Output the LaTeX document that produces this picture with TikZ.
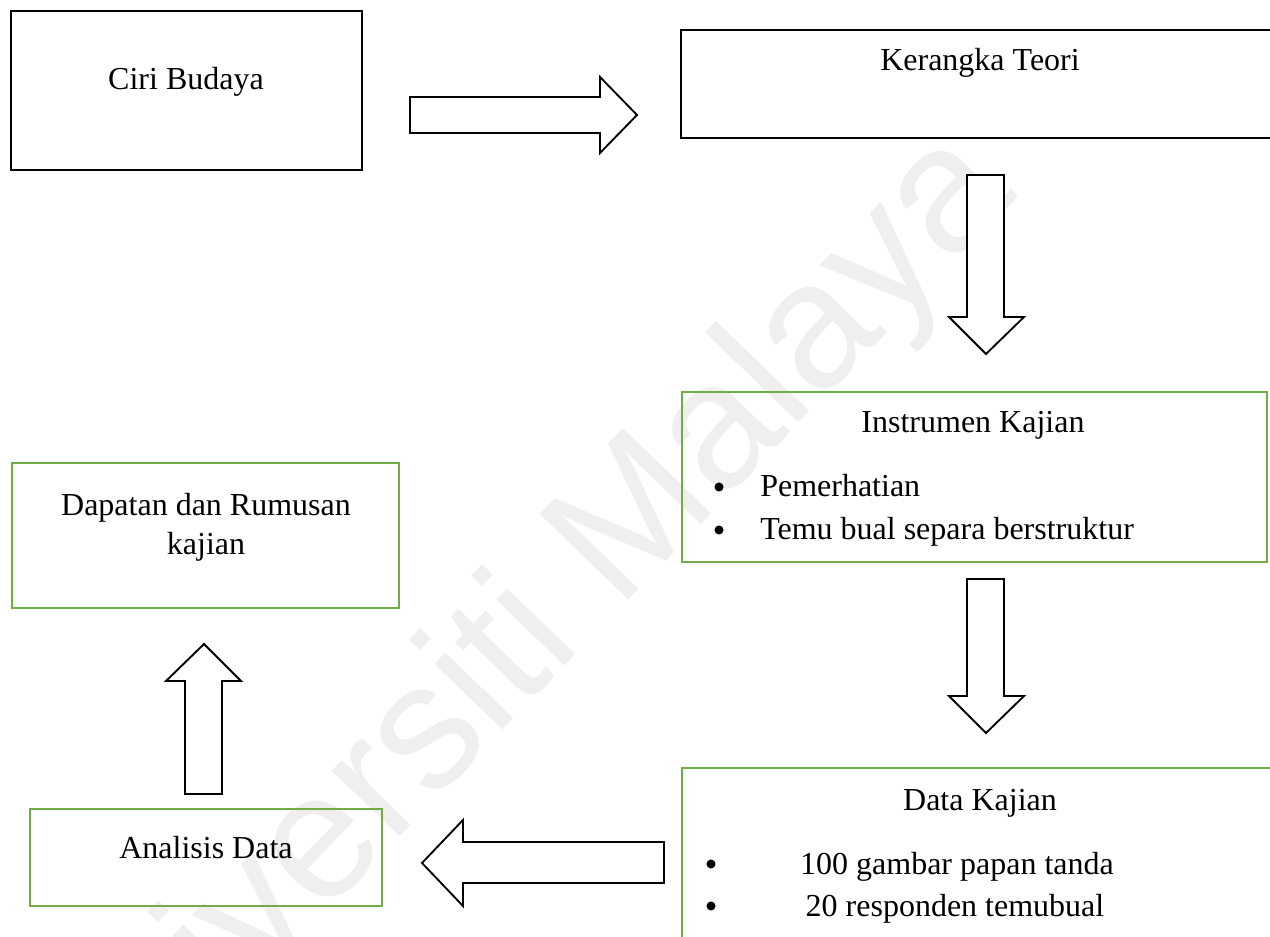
\documentclass[tikz,border=0pt]{standalone}
\usepackage{fontspec}
\setmainfont{Liberation Serif}
\newfontfamily\wmfont{Liberation Sans}
\usetikzlibrary{fit}
\definecolor{boxgreen}{HTML}{70AD47}
\definecolor{wmgray}{HTML}{EFEFEF}
\begin{document}
\begin{tikzpicture}[x=0.75pt,y=-0.75pt,
  bbox/.style={draw=black, line width=1.6pt, inner sep=0pt},
  gbox/.style={draw=boxgreen, line width=1.5pt, inner sep=0pt},
  lbl/.style={anchor=base, inner sep=0pt, font=\fontsize{24}{28}\selectfont},
  lblw/.style={anchor=base west, inner sep=0pt, font=\fontsize{24}{28}\selectfont},
  bul/.style={circle, fill=black, inner sep=0pt, minimum size=6.8pt},
  blockarrow/.style={draw=black, line width=1.4pt, fill=white, line join=miter},
  wm/.style={rotate=46, anchor=center, inner sep=0pt, text=wmgray, font=\wmfont\fontsize{134}{134}\selectfont}]

\useasboundingbox (0,0) rectangle (1270,937);
\clip (0,0) rectangle (1270,937);
\fill[white] (0,0) rectangle (1270,937);

% watermark
\node[wm] (watermark) at (513,653) {Universiti Malaya};

% boxes
\node[bbox, fit={(11,11) (362,170)}] (ciri) {};
\node[bbox, fit={(681,30) (1279,138)}] (teori) {};
\node[gbox, fit={(682,392) (1267,562)}] (instrumen) {};
\node[gbox, fit={(682,768) (1278,960)}] (data) {};
\node[gbox, fit={(30,809) (382,906)}] (analisis) {};
\node[gbox, fit={(12,463) (399,608)}] (dapatan) {};

% texts
\node[lbl] (ciriT) at (186,90) {Ciri Budaya};
\node[lbl] (teoriT) at (980,71) {Kerangka Teori};
\node[lbl] (instT) at (973,433) {Instrumen Kajian};
\node[bul] (instB1) at (719,487) {};
\node[lblw] (instI1) at (760,496) {Pemerhatian};
\node[bul] (instB2) at (719,530) {};
\node[lblw] (instI2) at (760,539) {Temu bual separa berstruktur};
\node[lbl] (dataT) at (980,810) {Data Kajian};
\node[bul] (dataB1) at (711,864) {};
\node[lbl] (dataI1) at (957,874) {100 gambar papan tanda};
\node[bul] (dataB2) at (711,906) {};
\node[lbl] (dataI2) at (955,916) {20 responden temubual};
\node[lbl] (analisisT) at (206,858) {Analisis Data};
\node[lbl] (dapatanT1) at (206,515) {Dapatan dan Rumusan};
\node[lbl] (dapatanT2) at (206,554) {kajian};

% block arrows
\draw[blockarrow] (410,97) -- (600,97) -- (600,77) -- (637,115) -- (600,153) -- (600,133) -- (410,133) -- cycle;
\draw[blockarrow] (967,175) -- (1004,175) -- (1004,317) -- (1024,317) -- (986,354) -- (949,317) -- (967,317) -- cycle;
\draw[blockarrow] (967,579) -- (1004,579) -- (1004,696) -- (1024,696) -- (986,733) -- (949,696) -- (967,696) -- cycle;
\draw[blockarrow] (664,842) -- (463,842) -- (463,820) -- (422,863) -- (463,906) -- (463,883) -- (664,883) -- cycle;
\draw[blockarrow] (185,794) -- (185,681) -- (166,681) -- (204,644) -- (241,681) -- (222,681) -- (222,794) -- cycle;
\end{tikzpicture}
\end{document}
